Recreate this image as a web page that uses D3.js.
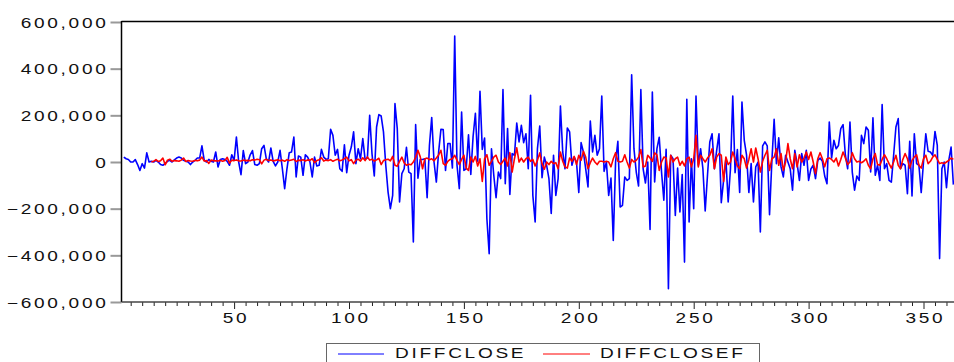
<!DOCTYPE html>
<html>
<head>
<meta charset="utf-8">
<script src="https://cdn.jsdelivr.net/npm/d3@7"></script>
<style>
  body { margin: 0; background: #fff; }
  svg text { font-family: "Liberation Sans", Arial, sans-serif; font-size: 14px; fill: #111; letter-spacing: 2px; }
</style>
</head>
<body>
<svg id="chart" width="954" height="362"></svg>
<script>
// observations run 1..364, values in thousands
const obsRange = [1, 364];
const closeStart = 2;
const diffCloseK = [
  21, 14, 11, 0, 0, 10, -11, -36, -7, -26,
  39, 0, 3, 0, 7, 0, -11, -14, -6, 3,
  7, 0, 9, 17, 21, 17, 7, 3, 0, -11,
  0, 7, 17, 17, 69, 7, 0, 11, 3, 0,
  43, -21, 11, 14, 11, 3, -14, 31, 7, 107,
  0, -54, 49, -7, 0, 31, 49, -11, -14, -7,
  57, 71, 14, 0, 60, 3, -17, 0, 50, -29,
  -114, -29, 40, 43, 107, -64, 26, 21, -57, 31,
  21, 0, -64, 21, -17, -14, 54, 21, 11, 14,
  140, 114, 29, 54, -29, -40, 74, -46, 29, 64,
  129, -7, 57, 14, 100, 11, 17, 200, 36, -60,
  150, 203, 197, 129, -14, -129, -200, -143, 250, 143,
  -171, -50, -29, 63, -43, -50, -343, 160, -69, 11,
  11, 14, -153, 71, 191, 0, -86, 43, 140, 139,
  -36, 79, 79, -26, 540, -14, -114, 214, -36, -29,
  117, -53, 110, 209, 3, 303, 54, 103, -243, -393,
  57, -57, -153, -43, -71, 311, -93, 143, -139, 36,
  29, 167, 86, 157, 83, 121, -29, 286, -143, -257,
  57, 154, -67, 21, -14, -71, -221, 29, -143, -71,
  240, 43, -29, 146, 129, -14, 21, 0, -131, 83,
  43, -29, -107, 176, 43, 114, 29, 57, 283, -40,
  0, -143, -69, -336, 0, 89, -193, -186, -64, -79,
  -71, 374, 57, -43, -103, 310, -29, -90, 0, -289,
  300, -86, 57, 106, -43, -164, 54, -543, 29, 14,
  -229, -26, -214, -54, -429, 269, -257, 14, -200, 283,
  -14, 57, -29, -210, -57, 86, 121, -29, 50, 121,
  -174, -79, 14, -171, -29, 283, -46, 53, -131, 257,
  93, 29, -131, -7, -171, -21, 0, -300, 69, 86,
  69, -226, 0, 183, -7, 104, -21, -64, 29, 0,
  -29, -121, 50, -7, -79, 36, -14, 50, -79, -30,
  -14, -71, 7, 17, 3, -60, -93, 171, 17, 93,
  57, 71, 143, 160, 29, -29, 171, -43, -121, -60,
  -79, 114, 79, 150, 136, -43, 189, -57, -14, -79,
  246, -29, -7, -79, -86, 29, 150, 186, -29, -7,
  -14, -136, 89, -146, 121, -7, -14, -131, 0, 121,
  46, 43, 29, 131, 71, -414, -29, 0, -110, 7,
  64, -97
];
const closeFStart = 14;
const diffCloseFK = [
  0, 3, 10, 2, 5, 17, -12, 8, 12, 3,
  6, 5, 3, 8, 17, 2, 6, 4, 3, 7,
  5, 8, 21, 4, 6, -6, 8, 6, 5, 4,
  7, 3, 6, 20, -5, 8, 6, 9, 5, 4,
  8, 6, 7, 5, 10, 8, 12, 10, -8, 8,
  12, 6, 9, 4, 7, 10, 5, 8, 3, 10,
  6, 9, 12, 2, 8, 6, 10, 4, 9, 7,
  14, -3, 6, 10, 18, 4, 8, 6, 10, 3,
  8, 12, 5, 9, 14, 21, 5, 10, -7, 8,
  12, 4, 18, 6, 22, 8, 12, 4, 9, 16,
  -11, 6, 10, 12, 5, 24, -14, -18, 3, 21,
  -4, -14, -10, -12, 0, 20, 50, 22, -29, 14,
  17, 10, 14, 5, 17, 30, 50, -7, -14, 3,
  11, 14, 29, 7, -11, 11, 29, -26, -36, 21,
  0, 24, -17, 14, -83, 14, 31, -14, 3, 21,
  29, 0, -11, 3, 17, -17, 40, -43, 14, 61,
  0, 17, 0, 14, 21, 3, 11, -17, 7, 39,
  -7, -31, 0, -11, 3, -7, -3, -29, 43, 3,
  -21, -26, 17, 3, 24, -11, 29, 7, 46, 21,
  -29, -3, 17, 0, -11, 3, 3, 0, 3, 0,
  -21, 14, 40, 3, 0, 3, 31, 0, -26, 11,
  0, 7, 21, 53, -21, -17, 29, 17, 3, 39,
  31, -36, 0, 21, 17, -64, 29, 0, 14, 21,
  -14, 3, -17, 14, 21, -21, 14, 114, -21, 29,
  14, 0, 17, 29, 57, -29, 21, 36, 29, -83,
  21, -11, 0, 43, 14, -17, -29, 29, 14, -26,
  11, 57, 0, 60, 14, -43, 3, 29, 50, -36,
  14, 21, 57, -14, 36, -36, 0, 79, 14, -29,
  36, -21, 31, 0, 17, 43, 11, 43, 0, -50,
  14, 40, 14, -21, 14, 17, 11, 0, 17, -17,
  11, 43, 17, -11, 0, 40, 14, 0, 3, -3,
  3, 14, -14, -29, 14, 36, -11, -14, 11, 31,
  14, -7, -26, 0, 29, -14, -29, 11, 36, 14,
  -26, 7, 21, 31, -14, -26, 14, 29, -7, 3,
  21, 31, 11, -7, -3, -7, 0, 7, 17, 11
];
const yTicks = [-600, -400, -200, 0, 200, 400, 600];
const xMajor = [50, 100, 150, 200, 250, 300, 350];
const seriesNames = ["DIFFCLOSE", "DIFFCLOSEF"];
const seriesColors = ["#0000ff", "#ff0000"];

const svg = d3.select("#chart");
const plotLeft = 121.5, plotTop = 22, plotBottom = 302;
const sx = 1.36; // stretched text like the original export

const x = d3.scaleLinear().domain(obsRange).range([plotLeft, plotLeft + 363 * 2.298]);
const y = d3.scaleLinear().domain([-600, 600]).range([plotBottom, plotTop]);

// y axis
const yAxis = svg.append("g")
  .attr("transform", `translate(${plotLeft},0)`)
  .call(d3.axisLeft(y).tickValues(yTicks).tickSize(11).tickPadding(0)
    .tickFormat(d => d3.format(",")(d * 1000)));
yAxis.select(".domain").remove();
yAxis.selectAll("line").attr("stroke", "#999").attr("stroke-width", 2);
yAxis.selectAll("text")
  .attr("x", -13 / sx)
  .attr("dy", "0.36em")
  .attr("transform", `scale(${sx},1)`);

// x axis, minor then major ticks
const xMinor = d3.range(5, 364, 5).filter(v => v % 50 !== 0);
const xAxisMinor = svg.append("g")
  .attr("transform", `translate(0,${plotBottom})`)
  .call(d3.axisBottom(x).tickValues(xMinor).tickSize(4).tickFormat(""));
xAxisMinor.select(".domain").remove();
xAxisMinor.selectAll("line").attr("stroke", "#222");
const xAxis = svg.append("g")
  .attr("transform", `translate(0,${plotBottom})`)
  .call(d3.axisBottom(x).tickValues(xMajor).tickSize(7).tickPadding(4).tickFormat(d3.format("d")));
xAxis.select(".domain").remove();
xAxis.selectAll("line").attr("stroke", "#222");
xAxis.selectAll("text")
  .attr("x", 1)
  .attr("transform", `scale(${sx},1)`);

// series
const line = start => d3.line()
  .x((d, j) => x(start + j))
  .y(d => y(d));

svg.append("path")
  .datum(diffCloseK)
  .attr("fill", "none")
  .attr("stroke", seriesColors[0])
  .attr("stroke-width", 1.6)
  .attr("stroke-linejoin", "round")
  .attr("d", line(closeStart));

svg.append("path")
  .datum(diffCloseFK)
  .attr("fill", "none")
  .attr("stroke", seriesColors[1])
  .attr("stroke-width", 1.6)
  .attr("stroke-linejoin", "round")
  .attr("d", line(closeFStart));

// frame
svg.append("line").attr("x1", plotLeft).attr("x2", 954).attr("y1", plotTop - 0.5).attr("y2", plotTop - 0.5)
  .attr("stroke", "#000").attr("stroke-width", 1.5);
svg.append("line").attr("x1", plotLeft).attr("x2", plotLeft).attr("y1", plotTop - 1).attr("y2", plotBottom)
  .attr("stroke", "#000").attr("stroke-width", 1.5);
svg.append("line").attr("x1", plotLeft).attr("x2", 954).attr("y1", plotBottom).attr("y2", plotBottom)
  .attr("stroke", "#444").attr("stroke-width", 1.5);

// legend
const legend = svg.append("g");
legend.append("rect")
  .attr("x", 326.5).attr("y", 343.5).attr("width", 433).attr("height", 30)
  .attr("fill", "none").attr("stroke", "#666");
const legX = [[338, 384, 395], [543, 590, 600]];
seriesNames.forEach((name, k) => {
  legend.append("line")
    .attr("x1", legX[k][0]).attr("x2", legX[k][1]).attr("y1", 354).attr("y2", 354)
    .attr("stroke", seriesColors[k]).attr("stroke-width", 1);
  legend.append("text")
    .attr("x", legX[k][2] / sx).attr("y", 358.5)
    .attr("transform", `scale(${sx},1)`)
    .text(name);
});
</script>
</body>
</html>
